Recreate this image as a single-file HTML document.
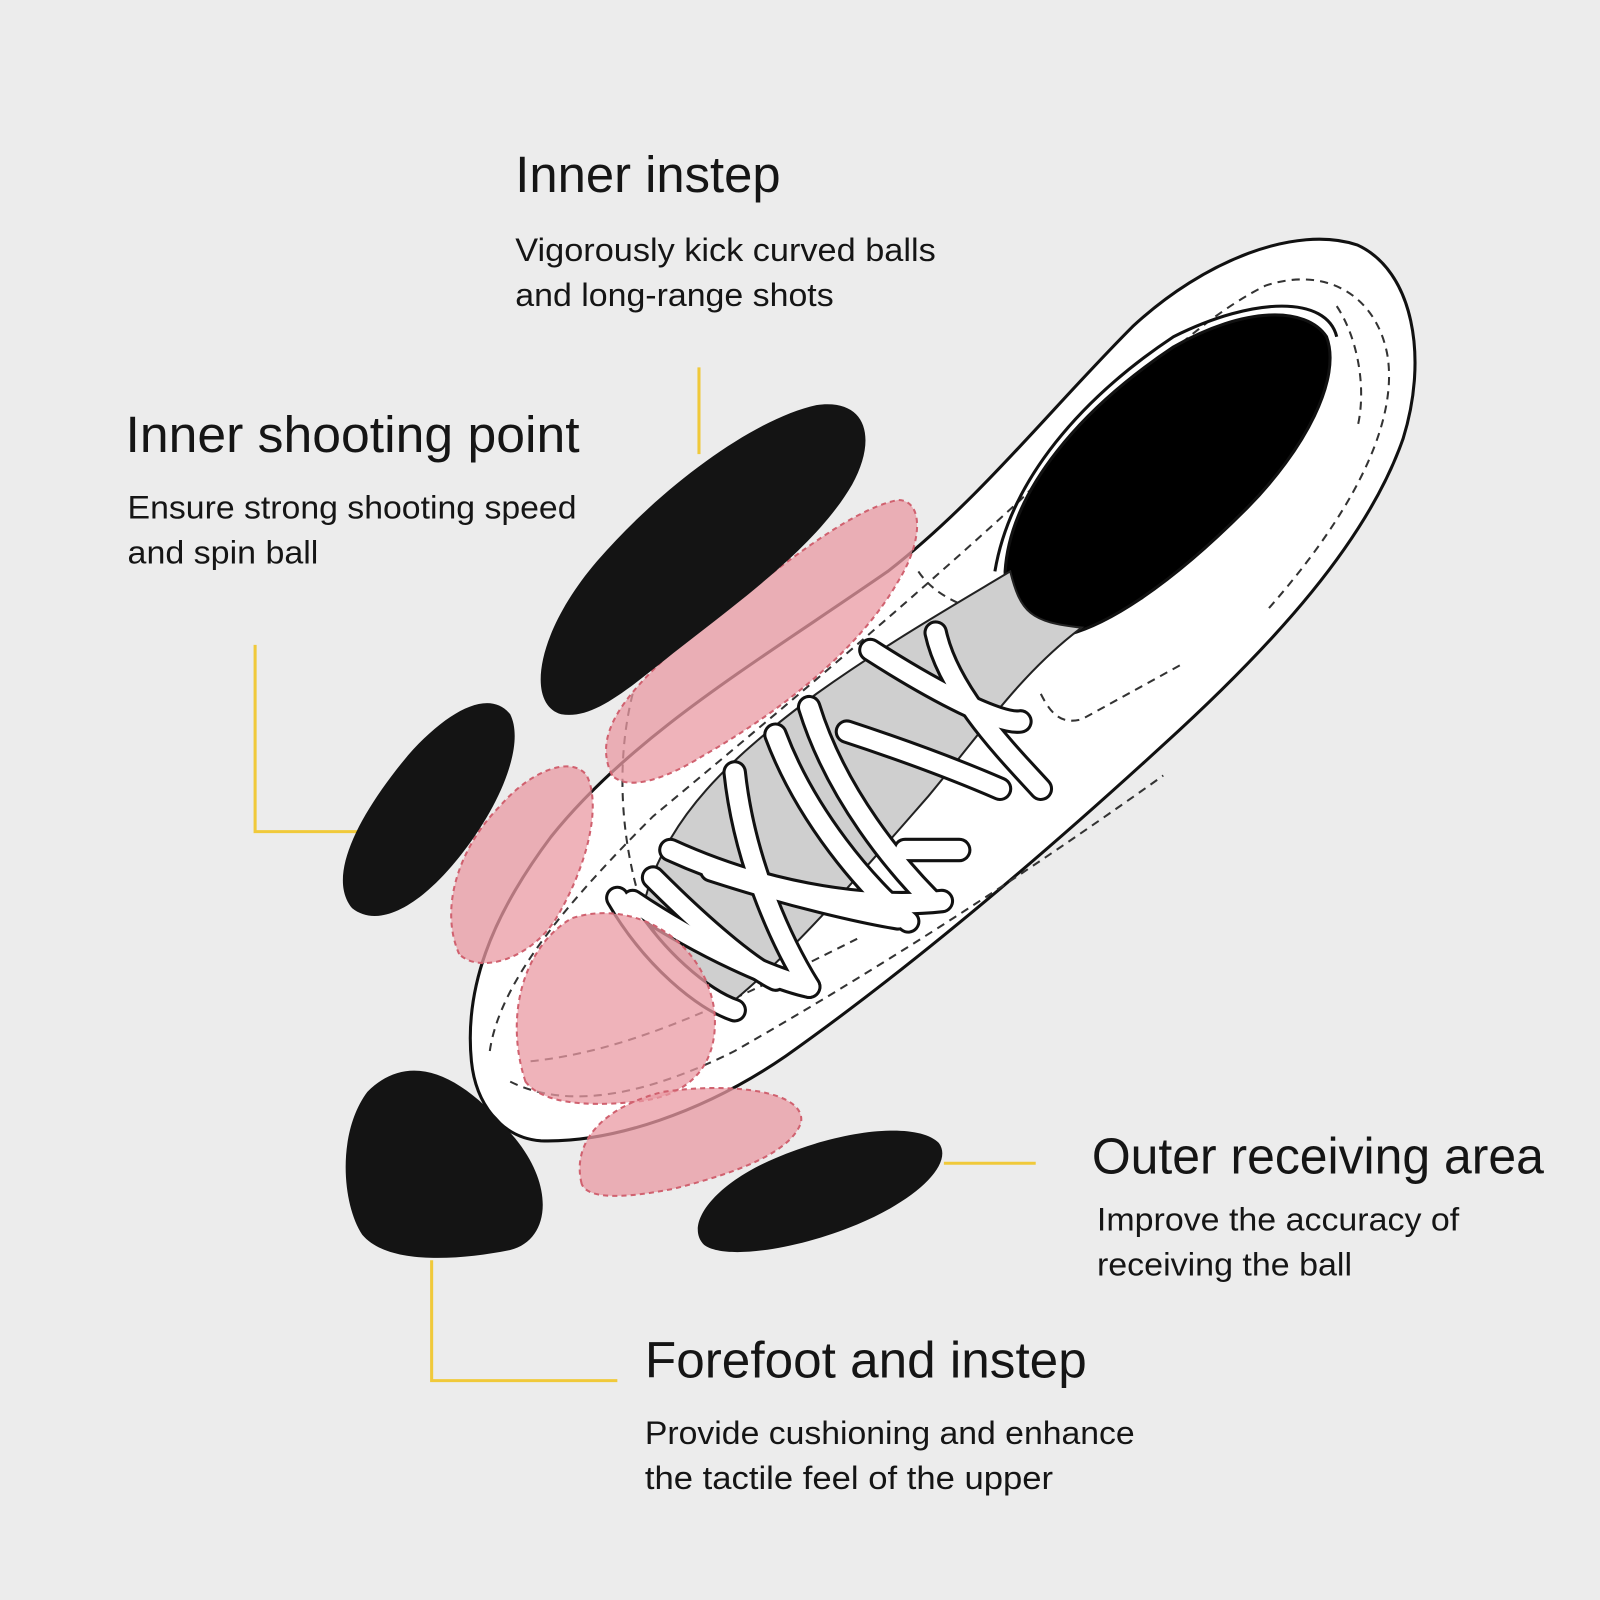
<!DOCTYPE html>
<html><head><meta charset="utf-8"><style>
html,body{margin:0;padding:0;background:#ececec;}
svg{display:block}
text{font-family:"Liberation Sans Narrow","Liberation Sans",sans-serif;fill:#151515}
</style></head><body>
<svg width="1600" height="1600" viewBox="0 0 1568 1568" xmlns="http://www.w3.org/2000/svg">
<rect width="1568" height="1568" fill="#ececec"/>
<g stroke="#f0c93a" stroke-width="3" fill="none">
<path d="M685 360 V445"/>
<path d="M250 632 V815 H372"/>
<path d="M925 1140 H1015"/>
<path d="M423 1235 V1353 H605"/>
</g>
<path d="M462 1040 C455 970 480 900 540 820 C620 720 740 650 870 560 C960 490 1030 400 1110 320 C1180 255 1270 220 1330 240 C1385 265 1400 350 1375 430 C1340 530 1250 630 1140 730 C1020 840 890 950 770 1035 C690 1090 600 1120 530 1118 C490 1115 466 1080 462 1040 Z" fill="#fff" stroke="#111" stroke-width="3"/>
<g fill="none" stroke="#333" stroke-width="2" stroke-dasharray="8 6">
<path d="M480 1030 C490 960 560 880 640 800 C760 700 880 600 1000 490 C1080 410 1160 320 1240 280 C1300 260 1350 290 1360 350 C1370 420 1320 510 1240 600"/>
<path d="M500 1060 C560 1090 640 1070 720 1030 C860 950 1000 860 1140 760"/>
<path d="M520 1040 C620 1030 720 980 840 920"/>
<path d="M620 680 C600 760 610 860 650 940"/>
<path d="M900 560 C920 590 960 600 1000 610"/>
<path d="M1020 680 C1030 700 1040 710 1060 705 L1160 650"/>
<path d="M1310 300 C1330 330 1340 380 1330 420"/>
</g>
<path d="M985 560 C990 480 1060 400 1150 340 C1220 300 1280 300 1300 330 C1315 370 1280 440 1220 500 C1150 570 1080 620 1030 625 C1000 625 985 600 985 560 Z" fill="#000" stroke="#111" stroke-width="3"/>
<path d="M975 560 C990 470 1060 390 1150 330 C1230 290 1300 290 1310 330" fill="none" stroke="#111" stroke-width="3"/>
<path d="M630 890 C650 800 720 740 800 680 C870 630 940 590 990 560 C1000 600 1010 610 1060 615 C1000 660 960 720 910 780 C840 860 780 930 720 980 C680 960 645 930 630 890 Z" fill="#cfcfcf" stroke="#222" stroke-width="2"/>
<g stroke-linecap="round" fill="none">
<g stroke="#111" stroke-width="24">
<path d="M853 637 C920 680 980 710 1000 707"/>
<path d="M917 620 C930 680 990 740 1020 773"/>
<path d="M793 693 C820 780 880 850 913 883"/>
<path d="M760 720 C790 800 850 870 890 903"/>
<path d="M720 757 C730 850 770 930 793 967"/>
<path d="M657 833 C760 880 860 890 923 883"/>
<path d="M620 883 C690 930 760 960 793 967"/>
<path d="M830 717 C900 740 950 760 980 773"/>
<path d="M697 853 C780 880 850 895 880 900"/>
<path d="M887 833 L940 833"/>
<path d="M605 880 C640 940 690 980 720 990"/>
<path d="M640 860 C700 920 740 950 760 960"/>
</g>
<g stroke="#fff" stroke-width="18">
<path d="M853 637 C920 680 980 710 1000 707"/>
<path d="M917 620 C930 680 990 740 1020 773"/>
<path d="M793 693 C820 780 880 850 913 883"/>
<path d="M760 720 C790 800 850 870 890 903"/>
<path d="M720 757 C730 850 770 930 793 967"/>
<path d="M657 833 C760 880 860 890 923 883"/>
<path d="M620 883 C690 930 760 960 793 967"/>
<path d="M830 717 C900 740 950 760 980 773"/>
<path d="M697 853 C780 880 850 895 880 900"/>
<path d="M887 833 L940 833"/>
<path d="M605 880 C640 940 690 980 720 990"/>
<path d="M640 860 C700 920 740 950 760 960"/>
</g>
</g>
<g fill="#e99aa3" fill-opacity="0.75" stroke="#d0616f" stroke-width="2" stroke-dasharray="5 4">
<path d="M600 760 C580 720 610 680 680 620 C760 560 830 500 880 490 C905 490 905 530 880 570 C840 640 760 700 690 740 C650 765 615 775 600 760 Z"/>
<path d="M450 935 C430 890 450 830 490 790 C520 755 560 740 575 760 C590 790 575 850 545 900 C520 940 470 955 450 935 Z"/>
<path d="M515 1060 C495 1000 510 930 560 900 C620 880 690 920 700 990 C705 1040 680 1075 620 1080 C570 1085 530 1080 515 1060 Z"/>
<path d="M570 1160 C560 1120 590 1085 650 1070 C720 1060 790 1070 785 1100 C775 1130 720 1150 660 1165 C610 1175 575 1175 570 1160 Z"/>
</g>
<g fill="#141414">
<path d="M550 700 C515 690 525 620 585 550 C650 475 740 410 800 397 C850 390 860 430 835 475 C800 535 730 585 660 640 C610 680 580 705 550 700 Z"/>
<path d="M345 890 C320 860 350 800 400 740 C440 695 480 675 500 700 C515 730 490 790 450 840 C410 890 370 910 345 890 Z"/>
<path d="M360 1070 C400 1030 450 1050 500 1110 C545 1160 540 1215 500 1225 C450 1235 380 1240 355 1210 C335 1180 330 1110 360 1070 Z"/>
<path d="M690 1220 C670 1200 700 1160 760 1135 C830 1105 900 1100 920 1120 C935 1140 900 1175 840 1200 C780 1225 710 1235 690 1220 Z"/>
</g>
<text x="505" y="188" font-size="50" textLength="260" lengthAdjust="spacingAndGlyphs">Inner instep</text>
<text x="505" y="256" font-size="32" textLength="412" lengthAdjust="spacingAndGlyphs">Vigorously kick curved balls</text>
<text x="505" y="300" font-size="32" textLength="312" lengthAdjust="spacingAndGlyphs">and long-range shots</text>
<text x="123" y="443" font-size="50" textLength="445" lengthAdjust="spacingAndGlyphs">Inner shooting point</text>
<text x="125" y="508" font-size="32" textLength="440" lengthAdjust="spacingAndGlyphs">Ensure strong shooting speed</text>
<text x="125" y="552" font-size="32" textLength="187" lengthAdjust="spacingAndGlyphs">and spin ball</text>
<text x="1070" y="1150" font-size="50" textLength="443" lengthAdjust="spacingAndGlyphs">Outer receiving area</text>
<text x="1075" y="1206" font-size="32" textLength="355" lengthAdjust="spacingAndGlyphs">Improve the accuracy of</text>
<text x="1075" y="1250" font-size="32" textLength="250" lengthAdjust="spacingAndGlyphs">receiving the ball</text>
<text x="632" y="1350" font-size="50" textLength="433" lengthAdjust="spacingAndGlyphs">Forefoot and instep</text>
<text x="632" y="1415" font-size="32" textLength="480" lengthAdjust="spacingAndGlyphs">Provide cushioning and enhance</text>
<text x="632" y="1459" font-size="32" textLength="400" lengthAdjust="spacingAndGlyphs">the tactile feel of the upper</text>
</svg>
</body></html>
